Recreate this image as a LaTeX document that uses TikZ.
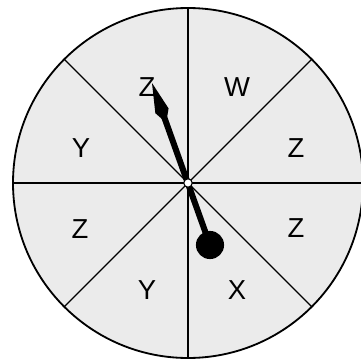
\documentclass[tikz,border=0pt]{standalone}
\usepackage{fontspec}
\setmainfont{Liberation Sans}
\usetikzlibrary{calc,arrows.meta}

\begin{document}
\begin{tikzpicture}[
    x=0.025cm, y=-0.025cm,
    every node/.style={font=\fontsize{19.5}{22}\selectfont},
    spoke/.style={draw, line width=0.9pt},
    letter/.style={inner sep=0pt},
    needle/.style={line width=4.3pt, -{Kite[length=30pt, width=10pt, inset=9pt]}},
]
\useasboundingbox (0,0) rectangle (361,362);
\coordinate (hub) at (188,183);
\fill[gray!16] (hub) circle (175);
\foreach \a in {0,45,90,135}
    \draw[spoke] ($(hub)+(\a:175)$) -- ($(hub)+(\a+180:175)$);
\draw[line width=1.3pt] (hub) circle (175);
% sector letters
\node[letter] (zTop) at (147,87) {Z};
\node[letter] (wTop) at (237,87) {W};
\node[letter] (yLeft) at (81,148) {Y};
\node[letter] (zRightUp) at (296,148) {Z};
\node[letter] (zLeft) at (80,229) {Z};
\node[letter] (zRightDown) at (296,228) {Z};
\node[letter] (yBottom) at (147,290) {Y};
\node[letter] (xBottom) at (237,290) {X};
% the pointer
\node[circle, fill, inner sep=0pt, minimum size=20pt] (knob) at (210,245) {};
\coordinate (tip) at (152,83);
\draw[needle] (knob.center) -- (tip);
\node[circle, draw, fill=white, inner sep=0pt, minimum size=6pt, line width=0.8pt] (pin) at (hub) {};
\end{tikzpicture}
\end{document}
